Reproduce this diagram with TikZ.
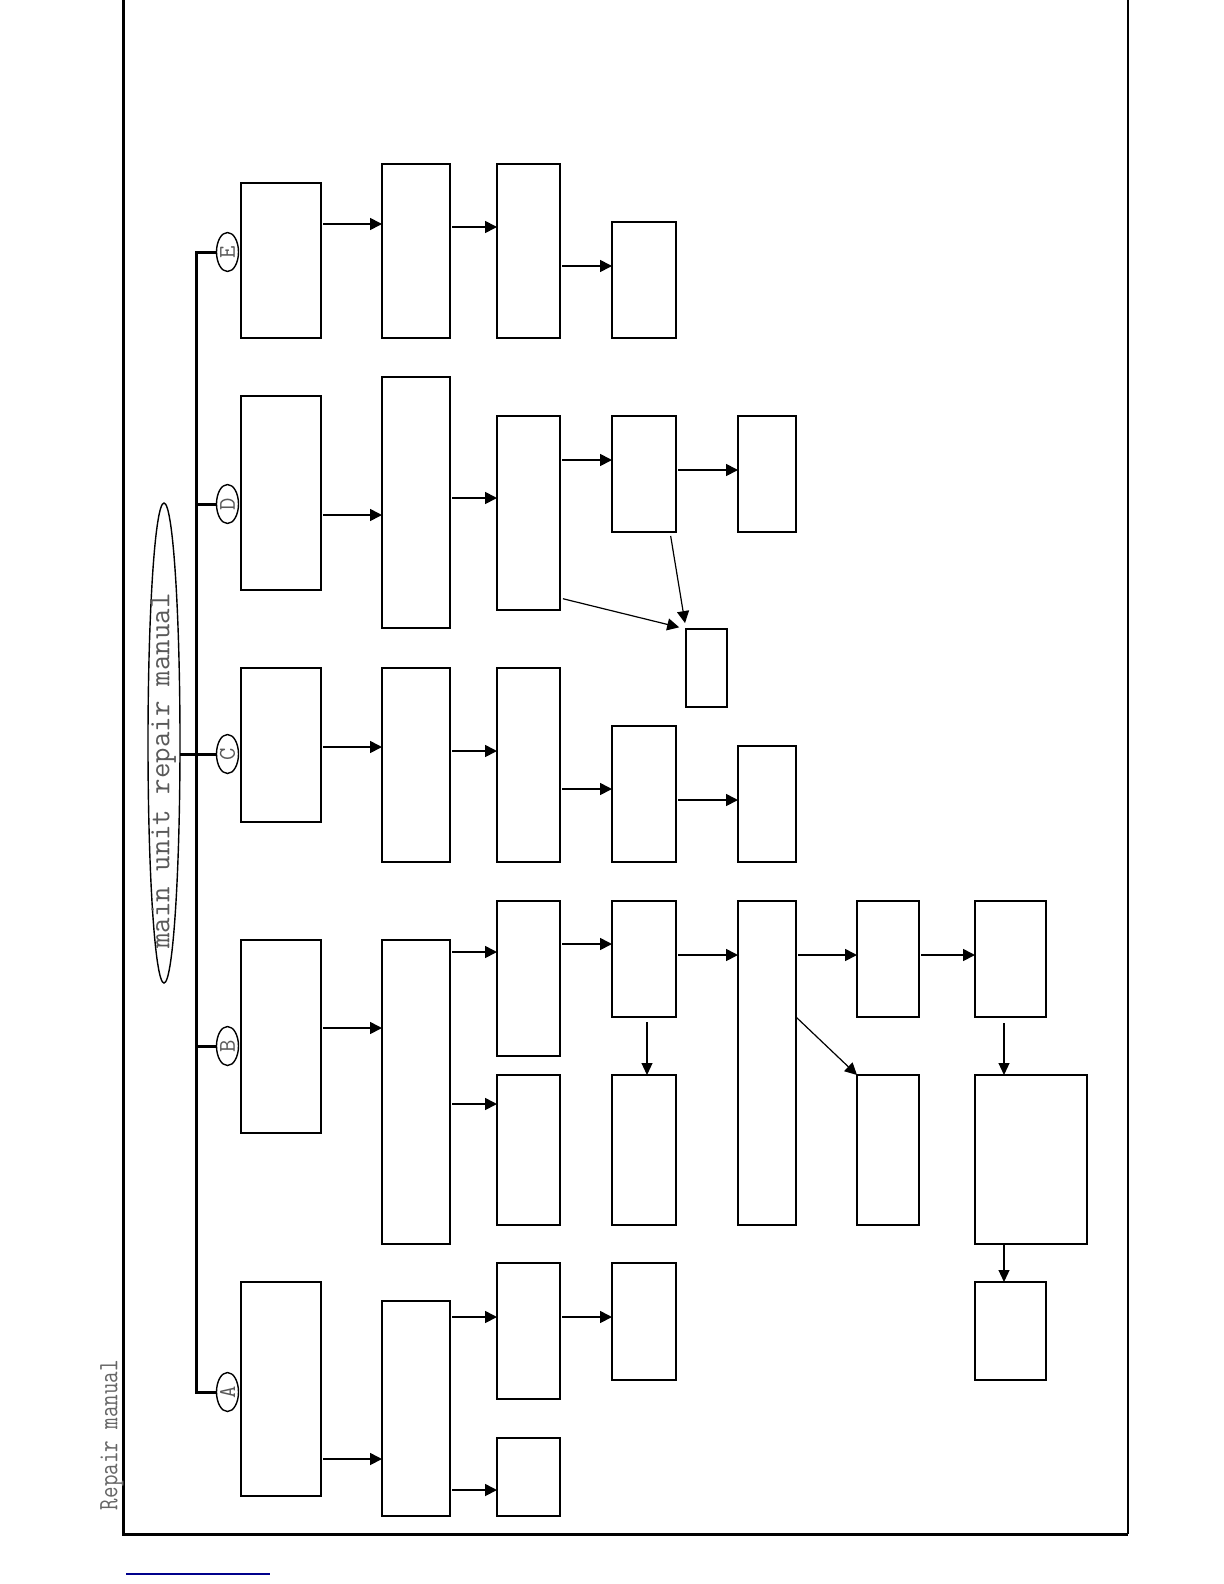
\documentclass[tikz,border=0pt]{standalone}
\usetikzlibrary{arrows.meta,shapes.geometric}

\tikzset{
  blk/.style={draw, line width=1.25pt, inner sep=0pt, outer sep=0pt},
  arr/.style={line width=0.85pt, -{Triangle[length=6pt,width=6pt]}},
  thinarr/.style={line width=0.55pt, -{Triangle[length=6pt,width=5.5pt]}},
  bus/.style={line width=1.5pt},
  tag/.style={ellipse, draw, line width=0.7pt, minimum width=11pt, minimum height=19.5pt,
    inner sep=0pt, outer sep=0pt},
  tagtxt/.style={rotate=90, inner sep=0pt, text=black!65,
    font=\ttfamily\fontsize{12pt}{12pt}\selectfont},
}

\begin{document}
\begin{tikzpicture}[x=0.5pt, y=-0.5pt]
  \useasboundingbox (0,0) rectangle (1224,1584);
  % page frame
  \draw[line width=1.5pt] (123,0) -- (123,1534) -- (1128,1534);
  \draw[line width=0.8pt] (1128,0) -- (1128,1534);
  \draw[line width=1pt, blue!55!black] (126,1574) -- (270,1574);
  \node[rotate=90, text=black!60, font=\ttfamily\fontsize{14pt}{14pt}\selectfont] (hdr) at (112,1435) {\scalebox{0.8}[1]{Repair manual}};

  % title and branch tags
  \node[ellipse, draw, line width=0.7pt, minimum width=16pt, minimum height=240pt,
    inner sep=0pt, outer sep=0pt] (ttl) at (164,743) {};
  \node[rotate=90, text=black!65, font=\ttfamily\fontsize{15pt}{15pt}\selectfont] (ttltxt) at (163.5,771) {main unit repair manual};
  \node[tag] (cE) at (227.5,252) {};
  \node[tag] (cD) at (227.5,504) {};
  \node[tag] (cC) at (227.5,754) {};
  \node[tag] (cB) at (227.5,1046) {};
  \node[tag] (cA) at (227.5,1392) {};
  \node[tagtxt] (tE) at (cE) {E};
  \node[tagtxt] (tD) at (cD) {D};
  \node[tagtxt] (tC) at (cC) {C};
  \node[tagtxt] (tB) at (cB) {B};
  \node[tagtxt] (tA) at (cA) {A};
  \coordinate (bar) at (196,0);
  \draw[bus] (cE.west) -| (bar |- cA.west) -- (cA.west);
  \draw[bus] (cD.west) -- (bar |- cD.west);
  \draw[bus] (ttl.east |- cC.west) -- (cC.west);
  \draw[bus] (cB.west) -- (bar |- cB.west);

  % boxes: name / x / y / width / height
  \foreach \n/\x/\y/\w/\h in {
      e1/281/260.5/40/77.5, e2/416/251/34/87, e3/528.5/251/31.5/87, e4/644/280/32/58,
      d1/281/493/40/97, d2/416/502.5/34/125.5, d3/528.5/513/31.5/97, d4/644/474/32/58,
      d5/767/474/29/58, d6/706.5/668/20.5/39,
      c1/281/745/40/77, c2/416/765/34/97, c3/528.5/765/31.5/97, c4/644/794/32/68,
      c5/767/804/29/58,
      b1/281/1036.5/40/96.5, b2/416/1092/34/152, b3/528.5/978.5/31.5/77.5,
      b4/528.5/1150/31.5/75, b5/644/959/32/58, b6/644/1150/32/75, b7/767/1063/29/162,
      b8/888/959/31/58, b9/888/1150/31/75, b10/1010.5/959/35.5/58,
      b11/1031/1159.5/56/84.5, b12/1010.5/1331/35.5/49,
      a1/281/1389/40/107, a2/416/1408.5/34/107.5, a3/528.5/1331/31.5/68,
      a4/644/1321.5/32/58.5, a5/528.5/1477/31.5/39}
    \node[blk, minimum width=\w pt, minimum height=\h pt] (\n) at (\x,\y) {};

  % horizontal arrows: from / to / height
  \foreach \s/\t/\y in {
      e1/e2/224, e2/e3/227, e3/e4/266,
      d1/d2/515, d2/d3/498, d3/d4/460, d4/d5/470,
      c1/c2/747, c2/c3/751, c3/c4/789, c4/c5/800,
      b1/b2/1028, b2/b3/952, b2/b4/1104, b3/b5/944, b5/b7/955, b7/b8/955, b8/b10/955,
      a1/a2/1459, a2/a3/1317, a2/a5/1490, a3/a4/1317}
    \draw[arr, shorten <=1.2pt] (\s.east |- 0,\y) -- (\t.west |- 0,\y);

  % downward and slanted arrows
  \draw[thinarr, shorten <=2.5pt] (b5.south -| 647,0) -- (b6.north -| 647,0);
  \draw[thinarr, shorten <=3pt] (b10.south -| 1004,0) -- (b11.north -| 1004,0);
  \draw[thinarr] (b11.south -| 1004,0) -- (b12.north -| 1004,0);
  \draw[arr, line width=0.6pt] (b7.east |- 0,1017) -- (b9.north west);
  \draw[arr, line width=0.6pt, shorten <=1.5pt, shorten >=3.5pt] (d3.east |- 0,598) -- (d6.north west);
  \draw[arr, line width=0.6pt, shorten <=2pt, shorten >=3pt] (670,0 |- d4.south) -- (d6.north west);
\end{tikzpicture}
\end{document}
